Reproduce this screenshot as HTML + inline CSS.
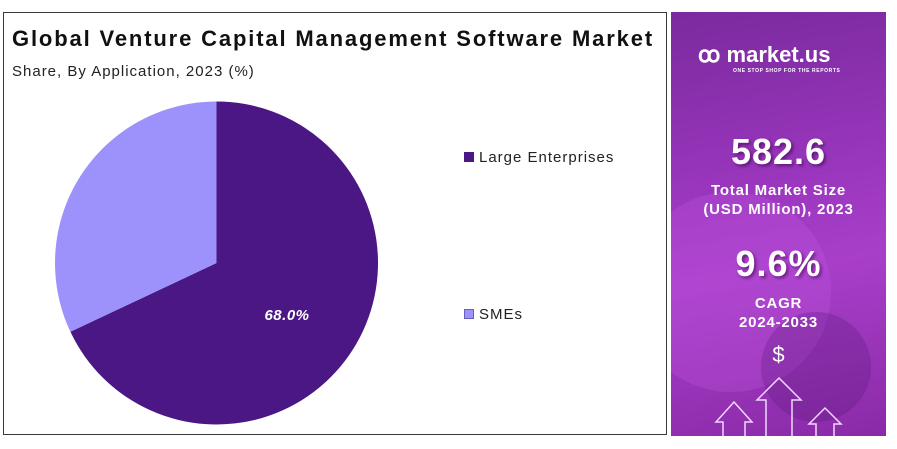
<!DOCTYPE html>
<html><head><meta charset="utf-8"><style>
body{margin:0;width:897px;height:449px;background:#fff;font-family:"Liberation Sans",sans-serif;overflow:hidden;position:relative}
.left{position:absolute;left:3px;top:12px;width:664px;height:423px;border:1px solid #3a3a3a;box-sizing:border-box}
.title{position:absolute;left:12px;top:26px;font-size:22px;font-weight:bold;color:#111;letter-spacing:1.85px;white-space:nowrap}
.sub{position:absolute;left:12px;top:63px;font-size:15px;color:#222;letter-spacing:1px}
.leg{position:absolute;font-size:15px;color:#222;letter-spacing:1px}
.leg span{display:inline-block;width:10px;height:10px;margin-right:5px;vertical-align:0px}
.right{position:absolute;left:671px;top:12px;width:215px;height:424px;background:linear-gradient(170deg,#7a2a9e 0%,#9a36bd 40%,#a83fc9 60%,#8a2aa8 100%);overflow:hidden;color:#fff;text-align:center}
.big{font-weight:bold;font-size:36px;text-shadow:2px 2px 3px rgba(60,0,80,.6);letter-spacing:1px}
.lbl{font-weight:bold;font-size:15px;line-height:19px;letter-spacing:.8px}
</style></head><body>
<div class="left"></div>
<div class="title">Global Venture Capital Management Software Market</div>
<div class="sub">Share, By Application, 2023 (%)</div>
<svg style="position:absolute;left:0;top:0" width="670" height="449">
<path d="M216.5,263 L216.5,101.5 A161.5,161.5 0 1 1 70.4,331.8 Z" fill="#4a1784"/>
<path d="M216.5,263 L70.4,331.8 A161.5,161.5 0 0 1 216.5,101.5 Z" fill="#9d92fb"/>
<text x="287" y="320" fill="#fff" font-size="15" font-weight="bold" font-style="italic" text-anchor="middle" font-family="Liberation Sans" letter-spacing="0.5">68.0%</text>
</svg>
<div class="leg" style="left:464px;top:149px"><span style="background:#4a1784"></span>Large Enterprises</div>
<div class="leg" style="left:464px;top:306px"><span style="background:#9d92fb;border:1px solid #6a5fc0;box-sizing:border-box"></span>SMEs</div>
<div class="right">
<div style="position:absolute;left:-40px;top:180px;width:200px;height:200px;border-radius:50%;background:rgba(200,90,230,.25)"></div>
<div style="position:absolute;left:90px;top:300px;width:110px;height:110px;border-radius:50%;background:rgba(80,20,110,.25)"></div>
<div style="position:absolute;left:27px;top:30px;font-size:22px;font-weight:bold;white-space:nowrap">ꝏ&nbsp;market.us</div>
<div style="position:absolute;left:62px;top:56px;font-size:5px;font-weight:bold;letter-spacing:.6px">ONE STOP SHOP FOR THE REPORTS</div>
<div class="big" style="position:absolute;left:0;width:215px;top:119px">582.6</div>
<div class="lbl" style="position:absolute;left:0;width:215px;top:169px">Total Market Size<br>(USD Million), 2023</div>
<div class="big" style="position:absolute;left:0;width:215px;top:231px">9.6%</div>
<div class="lbl" style="position:absolute;left:0;width:215px;top:282px">CAGR<br>2024-2033</div>
<div style="position:absolute;left:0;width:215px;top:330px;font-size:22px">$</div>
<svg style="position:absolute;left:0;top:0" width="215" height="424" fill="none" stroke="#f0d8ff" stroke-width="1.5">
<path d="M52,424 V410 H45 L63,390 L81,410 H74 V424"/>
<path d="M95,424 V388 H86 L108,366 L130,388 H121 V424"/>
<path d="M145,424 V412 H138 L154,396 L170,412 H163 V424"/>
</svg>
</div>
</body></html>
